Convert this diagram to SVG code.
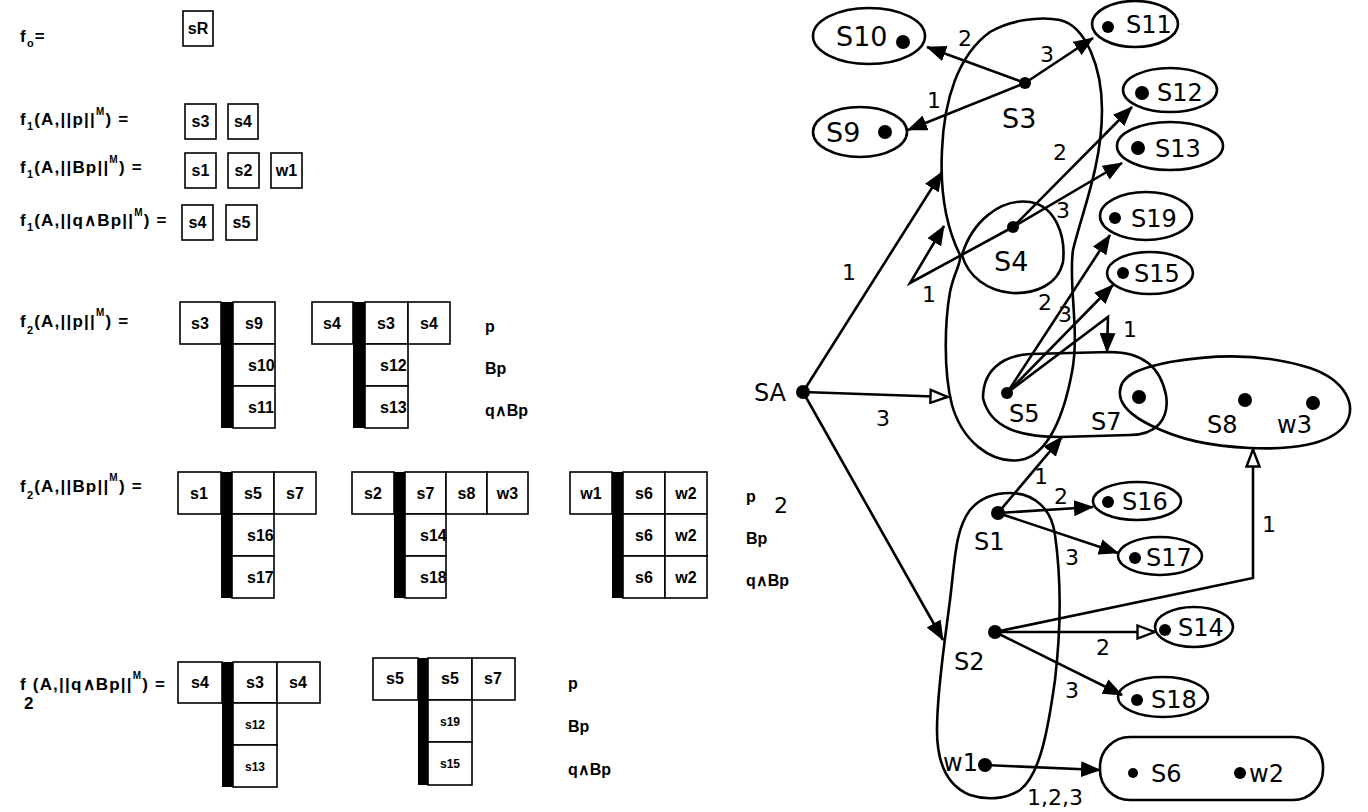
<svg xmlns="http://www.w3.org/2000/svg" width="1368" height="812" viewBox="0 0 1368 812">
<defs>
<style>
.ft{font-family:"Liberation Sans",Arial,sans-serif;font-weight:bold;font-size:17px;letter-spacing:1.2px;fill:#000}
.lb{font-family:"Liberation Sans",Arial,sans-serif;font-weight:bold;font-size:16px;fill:#000}
.ct{font-family:"Liberation Sans",Arial,sans-serif;font-weight:bold;font-size:16px;fill:#000;text-anchor:middle}
.cs{font-family:"Liberation Sans",Arial,sans-serif;font-weight:bold;font-size:16px;fill:#000}
.cm{font-family:"Liberation Sans",Arial,sans-serif;font-weight:bold;font-size:12px;fill:#000;text-anchor:middle}
.c{fill:#fff;stroke:#000;stroke-width:1.6}
.b{fill:#000}
.hw{font-family:"DejaVu Sans","Noto Sans",sans-serif;font-size:27px;fill:#000}
.hs{font-family:"DejaVu Sans","Noto Sans",sans-serif;font-size:24px;fill:#000}
.el{font-family:"DejaVu Sans","Noto Sans",sans-serif;font-size:22px;fill:#000}
.sh{fill:none;stroke:#000;stroke-width:2.6}
.ln{fill:none;stroke:#000;stroke-width:2.6;marker-end:url(#af)}
.lo{fill:none;stroke:#000;stroke-width:2.6;marker-end:url(#ao)}
.d{fill:#000}
</style>
<marker id="af" markerUnits="userSpaceOnUse" markerWidth="20" markerHeight="16" viewBox="0 0 20 16" refX="19" refY="8" orient="auto"><path d="M0,0 L20,8 L0,16 Z" fill="#000"/></marker>
<marker id="ao" markerUnits="userSpaceOnUse" markerWidth="20" markerHeight="16" viewBox="0 0 20 16" refX="19" refY="8" orient="auto"><path d="M1.5,1.5 L18.5,8 L1.5,14.5 Z" fill="#fff" stroke="#000" stroke-width="2.4"/></marker>
</defs>
<rect width="1368" height="812" fill="#fff"/>

<!-- left panel -->
<g id="f0">
<text class="ft" x="20" y="42">f<tspan dy="5" font-size="11">o</tspan><tspan dy="-5">=</tspan></text>
<rect class="c" x="183" y="11" width="30" height="35"/><text class="ct" x="198" y="34">sR</text>
</g>
<g id="f1p">
<text class="ft" x="20" y="125">f<tspan dy="5" font-size="11">1</tspan><tspan dy="-5">(A,||p||</tspan><tspan dy="-10" font-size="10">M</tspan><tspan dy="10">) =</tspan></text>
<rect class="c" x="185" y="104" width="31" height="35"/><text class="ct" x="200.5" y="127">s3</text>
<rect class="c" x="228" y="104" width="30" height="35"/><text class="ct" x="243" y="127">s4</text>
</g>
<g id="f1Bp">
<text class="ft" x="20" y="173">f<tspan dy="5" font-size="11">1</tspan><tspan dy="-5">(A,||Bp||</tspan><tspan dy="-10" font-size="10">M</tspan><tspan dy="10">) =</tspan></text>
<rect class="c" x="185" y="153" width="31" height="35"/><text class="ct" x="200.5" y="176">s1</text>
<rect class="c" x="228" y="153" width="31" height="35"/><text class="ct" x="243.5" y="176">s2</text>
<rect class="c" x="271" y="153" width="31" height="35"/><text class="ct" x="286.5" y="176">w1</text>
</g>
<g id="f1qBp">
<text class="ft" x="20" y="226">f<tspan dy="5" font-size="11">1</tspan><tspan dy="-5">(A,||q∧Bp||</tspan><tspan dy="-10" font-size="10">M</tspan><tspan dy="10">) =</tspan></text>
<rect class="c" x="182" y="205" width="31" height="35"/><text class="ct" x="197.5" y="228">s4</text>
<rect class="c" x="226" y="205" width="31" height="35"/><text class="ct" x="241.5" y="228">s5</text>
</g>

<g id="f2p">
<text class="ft" x="20" y="327">f<tspan dy="7" font-size="11">2</tspan><tspan dy="-7">(A,||p||</tspan><tspan dy="-11" font-size="10">M</tspan><tspan dy="11">) =</tspan></text>
<rect class="c" x="180" y="302" width="41" height="42"/><text class="ct" x="200" y="329">s3</text>
<rect class="b" x="221" y="302" width="12" height="126"/>
<rect class="c" x="233" y="302" width="42" height="42"/><text class="ct" x="254" y="329">s9</text>
<rect class="c" x="233" y="344" width="42" height="42"/><text class="cs" x="248" y="371">s10</text>
<rect class="c" x="233" y="386" width="42" height="42"/><text class="cs" x="248" y="413">s11</text>
<rect class="c" x="312" y="302" width="41" height="42"/><text class="ct" x="332" y="329">s4</text>
<rect class="b" x="353" y="302" width="12" height="126"/>
<rect class="c" x="365" y="302" width="43" height="42"/><text class="ct" x="386" y="329">s3</text>
<rect class="c" x="408" y="302" width="42" height="42"/><text class="ct" x="429" y="329">s4</text>
<rect class="c" x="365" y="344" width="43" height="42"/><text class="cs" x="380" y="371">s12</text>
<rect class="c" x="365" y="386" width="43" height="42"/><text class="cs" x="380" y="413">s13</text>
<text class="lb" x="485" y="332">p</text>
<text class="lb" x="485" y="374">Bp</text>
<text class="lb" x="485" y="416">q∧Bp</text>
</g>

<g id="f2Bp">
<text class="ft" x="20" y="492">f<tspan dy="7" font-size="11">2</tspan><tspan dy="-7">(A,||Bp||</tspan><tspan dy="-11" font-size="10">M</tspan><tspan dy="11">) =</tspan></text>
<rect class="c" x="178" y="472" width="43" height="42"/><text class="ct" x="199" y="499">s1</text>
<rect class="b" x="221" y="472" width="11" height="126"/>
<rect class="c" x="232" y="472" width="42" height="42"/><text class="ct" x="253" y="499">s5</text>
<rect class="c" x="274" y="472" width="42" height="42"/><text class="ct" x="295" y="499">s7</text>
<rect class="c" x="232" y="514" width="42" height="42"/><text class="cs" x="247" y="541">s16</text>
<rect class="c" x="232" y="556" width="42" height="42"/><text class="cs" x="247" y="583">s17</text>
<rect class="c" x="352" y="472" width="42" height="42"/><text class="ct" x="373" y="499">s2</text>
<rect class="b" x="394" y="472" width="11" height="126"/>
<rect class="c" x="405" y="472" width="41" height="42"/><text class="ct" x="425.5" y="499">s7</text>
<rect class="c" x="446" y="472" width="41" height="42"/><text class="ct" x="466.5" y="499">s8</text>
<rect class="c" x="487" y="472" width="41" height="42"/><text class="ct" x="507.5" y="499">w3</text>
<rect class="c" x="405" y="514" width="41" height="42"/><text class="cs" x="420" y="541">s14</text>
<rect class="c" x="405" y="556" width="41" height="42"/><text class="cs" x="420" y="583">s18</text>
<rect class="c" x="570" y="472" width="42" height="42"/><text class="ct" x="591" y="499">w1</text>
<rect class="b" x="612" y="472" width="11" height="126"/>
<rect class="c" x="623" y="472" width="42" height="42"/><text class="ct" x="644" y="499">s6</text>
<rect class="c" x="665" y="472" width="42" height="42"/><text class="ct" x="686" y="499">w2</text>
<rect class="c" x="623" y="514" width="42" height="42"/><text class="ct" x="644" y="541">s6</text>
<rect class="c" x="665" y="514" width="42" height="42"/><text class="ct" x="686" y="541">w2</text>
<rect class="c" x="623" y="556" width="42" height="42"/><text class="ct" x="644" y="583">s6</text>
<rect class="c" x="665" y="556" width="42" height="42"/><text class="ct" x="686" y="583">w2</text>
<text class="lb" x="746" y="502">p</text>
<text class="lb" x="746" y="544">Bp</text>
<text class="lb" x="746" y="586">q∧Bp</text>
</g>

<g id="f2qBp">
<text class="ft" x="20" y="690">f (A,||q∧Bp||<tspan dy="-11" font-size="10">M</tspan><tspan dy="11">) =</tspan></text>
<text class="ft" x="24" y="709" font-size="11">2</text>
<rect class="c" x="178" y="662" width="44" height="41"/><text class="ct" x="200" y="688">s4</text>
<rect class="b" x="222" y="662" width="11" height="125"/>
<rect class="c" x="233" y="662" width="44" height="41"/><text class="ct" x="255" y="688">s3</text>
<rect class="c" x="277" y="662" width="43" height="41"/><text class="ct" x="298" y="688">s4</text>
<rect class="c" x="233" y="703" width="44" height="42"/><text class="cm" x="255" y="729">s12</text>
<rect class="c" x="233" y="745" width="44" height="42"/><text class="cm" x="255" y="771">s13</text>
<rect class="c" x="373" y="658" width="45" height="42"/><text class="ct" x="395" y="684">s5</text>
<rect class="b" x="418" y="658" width="10" height="127"/>
<rect class="c" x="428" y="658" width="44" height="42"/><text class="ct" x="450" y="684">s5</text>
<rect class="c" x="472" y="658" width="43" height="42"/><text class="ct" x="493" y="684">s7</text>
<rect class="c" x="428" y="700" width="44" height="42"/><text class="cm" x="450" y="726">s19</text>
<rect class="c" x="428" y="742" width="44" height="43"/><text class="cm" x="450" y="768">s15</text>
<text class="lb" x="568" y="689">p</text>
<text class="lb" x="568" y="732">Bp</text>
<text class="lb" x="568" y="775">q∧Bp</text>
</g>

<!-- graph regions / nodes -->
<g id="tall-loop"><path class="sh" d="M1060,20 C1086,26 1102,68 1102,110 C1102,165 1082,212 1073,250 C1068,285 1080,330 1072,372 C1064,415 1048,456 1020,460 C990,464 962,440 952,405 C943,370 945,320 950,292 C954,272 962,262 960,255 C945,225 940,190 942,150 C944,100 958,55 990,32 C1010,20 1040,16 1060,20 Z"/></g>
<g id="s4-loop"><path class="sh" d="M962,255 C972,222 1000,198 1030,202 C1055,206 1066,235 1063,262 C1058,285 1035,294 1012,293 C988,291 968,277 962,255 Z"/></g>
<g id="s5s7-region"><path class="sh" d="M983,398 C983,372 1000,356 1030,354 L1110,352 C1140,352 1160,365 1166,395 C1170,420 1155,435 1130,435 L1060,437 C1020,437 990,428 983,398 Z"/></g>
<g id="s7s8w3-region"><path class="sh" d="M1120,395 C1118,375 1140,368 1170,362 C1210,355 1260,352 1310,368 C1345,380 1358,405 1345,425 C1330,445 1290,450 1250,448 C1210,446 1180,440 1150,425 C1130,415 1121,405 1120,395 Z"/></g>
<g id="s1s2w1-region"><path class="sh" d="M1010,493 C1035,493 1052,510 1055,535 C1060,570 1062,620 1055,680 C1048,730 1040,775 1020,790 C1005,800 985,800 970,795 C945,785 937,760 937,730 C937,690 945,640 950,600 C955,560 955,530 970,510 C980,498 995,493 1010,493 Z"/></g>

<g id="sA"><circle class="d" cx="803" cy="392" r="7"/><text class="hs" x="770" y="401" text-anchor="middle">SA</text></g>
<g id="s10"><ellipse class="sh" cx="869" cy="36" rx="56" ry="28"/><text class="hw" x="836" y="46">S10</text><circle class="d" cx="903" cy="42" r="7"/></g>
<g id="s9"><ellipse class="sh" cx="860" cy="132" rx="47" ry="25"/><text class="hw" x="826" y="142">S9</text><circle class="d" cx="885" cy="132" r="7"/></g>
<g id="s3"><circle class="d" cx="1025" cy="83" r="6"/><text class="hw" x="1002" y="128">S3</text></g>
<g id="s11"><ellipse class="sh" cx="1135" cy="24" rx="43" ry="23"/><circle class="d" cx="1108" cy="27" r="6"/><text class="hs" x="1126" y="33">S11</text></g>
<g id="s12"><ellipse class="sh" cx="1170" cy="90" rx="47" ry="22"/><circle class="d" cx="1142" cy="93" r="7"/><text class="hs" x="1157" y="101">S12</text></g>
<g id="s13"><ellipse class="sh" cx="1170" cy="146" rx="53" ry="24"/><circle class="d" cx="1138" cy="148" r="7"/><text class="hs" x="1155" y="157">S13</text></g>
<g id="s4"><circle class="d" cx="1013" cy="227" r="6"/><text class="hw" x="994" y="271">S4</text></g>
<g id="s19"><ellipse class="sh" cx="1146" cy="216" rx="46" ry="24"/><circle class="d" cx="1115" cy="218" r="6"/><text class="hs" x="1131" y="227">S19</text></g>
<g id="s15"><ellipse class="sh" cx="1150" cy="273" rx="43" ry="21"/><circle class="d" cx="1123" cy="273" r="6"/><text class="hs" x="1134" y="282">S15</text></g>
<g id="s5"><circle class="d" cx="1007" cy="393" r="6"/><text class="hs" x="1009" y="422">S5</text></g>
<g id="s7"><circle class="d" cx="1139" cy="397" r="7"/><text class="hs" x="1091" y="430">S7</text></g>
<g id="s8"><circle class="d" cx="1245" cy="400" r="7"/><text class="hs" x="1207" y="433">S8</text></g>
<g id="w3"><circle class="d" cx="1313" cy="403" r="7"/><text class="hs" x="1277" y="433">w3</text></g>
<g id="s1"><circle class="d" cx="998" cy="513" r="7"/><text class="hs" x="974" y="550">S1</text></g>
<g id="s2"><circle class="d" cx="995" cy="632" r="7"/><text class="hs" x="954" y="670">S2</text></g>
<g id="w1"><circle class="d" cx="985" cy="765" r="7"/><text class="hs" x="943" y="771">w1</text></g>
<g id="s16"><ellipse class="sh" cx="1137" cy="501" rx="44" ry="19"/><circle class="d" cx="1108" cy="502" r="6"/><text class="hs" x="1122" y="510">S16</text></g>
<g id="s17"><ellipse class="sh" cx="1160" cy="556" rx="42" ry="19"/><circle class="d" cx="1135" cy="558" r="6"/><text class="hs" x="1146" y="566">S17</text></g>
<g id="s14"><ellipse class="sh" cx="1194" cy="627" rx="39" ry="20"/><circle class="d" cx="1165" cy="630" r="6"/><text class="hs" x="1178" y="636">S14</text></g>
<g id="s18"><ellipse class="sh" cx="1163" cy="697" rx="45" ry="20"/><circle class="d" cx="1137" cy="700" r="6"/><text class="hs" x="1151" y="708">S18</text></g>
<g id="s6w2"><rect class="sh" x="1100" y="737" width="223" height="63" rx="30"/><circle class="d" cx="1133" cy="773" r="5"/><text class="hs" x="1151" y="782">S6</text><circle class="d" cx="1240" cy="773" r="6"/><text class="hs" x="1249" y="782">w2</text></g>

<!-- connectors -->
<g id="connectors">
<line class="ln" x1="1025" y1="83" x2="927" y2="47"/>
<line class="ln" x1="1025" y1="83" x2="908" y2="130"/>
<line class="ln" x1="1025" y1="83" x2="1093" y2="38"/>
<line class="ln" x1="803" y1="392" x2="942" y2="172"/>
<polyline class="ln" points="1013,227 910,283 944,226"/>
<line class="ln" x1="1013" y1="227" x2="1132" y2="107"/>
<line class="ln" x1="1013" y1="227" x2="1122" y2="163"/>
<line class="lo" x1="803" y1="392" x2="948" y2="397"/>
<line class="ln" x1="1007" y1="393" x2="1110" y2="235"/>
<line class="ln" x1="1007" y1="393" x2="1113" y2="285"/>
<polyline class="ln" points="1007,393 1108,317 1107,352"/>
<line class="ln" x1="803" y1="392" x2="943" y2="640"/>
<line class="ln" x1="998" y1="513" x2="1062" y2="437"/>
<line class="ln" x1="998" y1="513" x2="1093" y2="507"/>
<line class="ln" x1="998" y1="513" x2="1118" y2="553"/>
<polyline class="lo" points="995,632 1253,578 1253,449"/>
<line class="lo" x1="995" y1="632" x2="1155" y2="632"/>
<line class="ln" x1="995" y1="632" x2="1122" y2="695"/>
<line class="ln" x1="985" y1="765" x2="1100" y2="770"/>
<text class="el" x="958" y="46">2</text>
<text class="el" x="927" y="108">1</text>
<text class="el" x="1040" y="62">3</text>
<text class="el" x="842" y="280">1</text>
<text class="el" x="922" y="302">1</text>
<text class="el" x="1053" y="160">2</text>
<text class="el" x="1056" y="218">3</text>
<text class="el" x="876" y="426">3</text>
<text class="el" x="1038" y="310">2</text>
<text class="el" x="1058" y="322">3</text>
<text class="el" x="1123" y="337">1</text>
<text class="el" x="774" y="513" font-size="28">2</text>
<text class="el" x="1034" y="484" font-size="17">1</text>
<text class="el" x="1054" y="504" font-size="18">2</text>
<text class="el" x="1065" y="565">3</text>
<text class="el" x="1262" y="532">1</text>
<text class="el" x="1096" y="655">2</text>
<text class="el" x="1065" y="698">3</text>
<text class="el" x="1027" y="805" font-size="18">1,2,3</text>
</g>
</svg>
